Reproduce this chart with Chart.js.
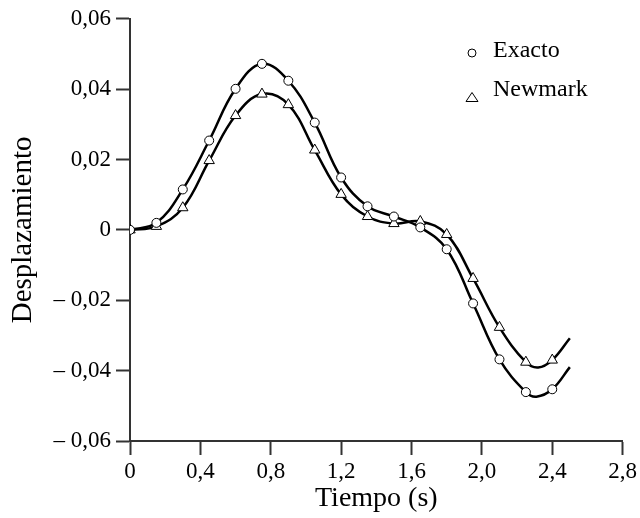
<!DOCTYPE html>
<html>
<head>
<meta charset="utf-8">
<script src="https://cdn.jsdelivr.net/npm/chart.js@4.4.1/dist/chart.umd.min.js"></script>
<style>
  html, body { margin: 0; padding: 0; background: #fff; }
  #wrap { width: 640px; height: 518px; }
</style>
</head>
<body>
<div id="wrap"><canvas id="chart" width="640" height="518"></canvas></div>
<script>
"use strict";

// sample times of the markers (s)
const tMarks = [0, 0.15, 0.3, 0.45, 0.6, 0.75, 0.9, 1.05, 1.2, 1.35, 1.5, 1.65, 1.8, 1.95, 2.1, 2.25, 2.4];
const exacto = [0, 0.0020, 0.0115, 0.0254, 0.0401, 0.0472, 0.0424, 0.0305, 0.0149, 0.0067, 0.0038, 0.0007, -0.0055, -0.0209, -0.0368, -0.0461, -0.0453];
const newmark = [0, 0.0010, 0.0063, 0.0197, 0.0325, 0.0386, 0.0356, 0.0227, 0.0101, 0.0038, 0.0018, 0.0024, -0.0013, -0.0138, -0.0277, -0.0376, -0.0370];

// extra points of the continuous curves (minimum and end)
const exactoExtraT = [2.31, 2.5];
const exactoExtra = [-0.0474, -0.0390];
const newmarkExtraT = [2.32, 2.5];
const newmarkExtra = [-0.0391, -0.0308];

const xTicks = [0, 0.4, 0.8, 1.2, 1.6, 2.0, 2.4, 2.8];
const xTickLabels = ['0', '0,4', '0,8', '1,2', '1,6', '2,0', '2,4', '2,8'];
const yTicks = [-0.06, -0.04, -0.02, 0, 0.02, 0.04, 0.06];
const yTickLabels = ['\u2013 0,06', '\u2013 0,04', '\u2013 0,02', '0', '0,02', '0,04', '0,06'];

const seriesNames = ['Exacto', 'Newmark'];

function points(ts, ys) {
    return ts.map((t, i) => ({ x: t, y: ys[i] }));
}

function curve(ts, ys, extraT, extraY) {
    return points(ts, ys).concat(points(extraT, extraY)).sort((a, b) => a.x - b.x);
}

const serif = "'Liberation Serif', 'Times New Roman', serif";
const axisColor = '#333';

// legend drawn by hand to match the original placement
const legendPlugin = {
    id: 'handLegend',
    afterDraw(chart) {
        const ctx = chart.ctx;
        ctx.save();
        ctx.fillStyle = '#000';
        ctx.strokeStyle = '#000';
        ctx.lineWidth = 1;
        ctx.font = '24px ' + serif;
        ctx.textBaseline = 'alphabetic';
        ctx.textAlign = 'left';

        // circle
        ctx.beginPath();
        ctx.arc(472, 53, 4, 0, Math.PI * 2);
        ctx.stroke();
        ctx.fillText(seriesNames[0], 493, 57);

        // triangle
        ctx.beginPath();
        ctx.moveTo(472, 92.5);
        ctx.lineTo(478, 101.5);
        ctx.lineTo(466, 101.5);
        ctx.closePath();
        ctx.stroke();
        ctx.fillText(seriesNames[1], 493, 96);
        ctx.restore();
    }
};

new Chart(document.getElementById('chart'), {
    type: 'line',
    data: {
        datasets: [
            {
                label: seriesNames[0] + ' marks',
                data: points(tMarks, exacto),
                showLine: false,
                pointStyle: 'circle',
                pointRadius: 4.5,
                pointBackgroundColor: '#fff',
                pointBorderColor: '#000',
                pointBorderWidth: 1
            },
            {
                label: seriesNames[1] + ' marks',
                data: points(tMarks, newmark),
                showLine: false,
                pointStyle: 'triangle',
                pointRadius: 6,
                pointBackgroundColor: '#fff',
                pointBorderColor: '#000',
                pointBorderWidth: 1
            },
            {
                label: seriesNames[0],
                data: curve(tMarks, exacto, exactoExtraT, exactoExtra),
                borderColor: '#000',
                borderWidth: 2.5,
                pointRadius: 0,
                tension: 0.4,
                fill: false
            },
            {
                label: seriesNames[1],
                data: curve(tMarks, newmark, newmarkExtraT, newmarkExtra),
                borderColor: '#000',
                borderWidth: 2.5,
                pointRadius: 0,
                tension: 0.4,
                fill: false
            }
        ]
    },
    options: {
        responsive: false,
        animation: false,
        layout: { padding: { left: 0, right: 17, top: 18, bottom: 0 } },
        plugins: {
            legend: { display: false },
            tooltip: { enabled: false }
        },
        scales: {
            x: {
                type: 'linear',
                min: 0,
                max: 2.8,
                afterBuildTicks: scale => { scale.ticks = xTicks.map(v => ({ value: v })); },
                afterFit: scale => { scale.height = 77; },
                ticks: {
                    color: '#000',
                    font: { family: serif, size: 23 },
                    padding: 3,
                    maxRotation: 0,
                    autoSkip: false,
                    callback: (v, i) => xTickLabels[i]
                },
                grid: {
                    drawOnChartArea: false,
                    drawTicks: true,
                    tickLength: 14,
                    tickColor: axisColor,
                    tickWidth: 2
                },
                border: { display: true, color: axisColor, width: 2 },
                title: {
                    display: true,
                    text: 'Tiempo (s)',
                    color: '#000',
                    font: { family: serif, size: 28 },
                    padding: { top: 0, bottom: 3 }
                }
            },
            y: {
                type: 'linear',
                min: -0.06,
                max: 0.06,
                afterBuildTicks: scale => { scale.ticks = yTicks.map(v => ({ value: v })); },
                afterFit: scale => { scale.width = 130; },
                ticks: {
                    color: '#000',
                    font: { family: serif, size: 23 },
                    padding: 5,
                    autoSkip: false,
                    callback: (v, i) => yTickLabels[i]
                },
                grid: {
                    drawOnChartArea: false,
                    drawTicks: true,
                    tickLength: 14,
                    tickColor: axisColor,
                    tickWidth: 2
                },
                border: { display: true, color: axisColor, width: 2 },
                title: {
                    display: true,
                    text: 'Desplazamiento',
                    color: '#000',
                    font: { family: serif, size: 29 },
                    padding: { top: 6, bottom: 0 }
                }
            }
        }
    },
    plugins: [legendPlugin]
});
</script>
</body>
</html>
